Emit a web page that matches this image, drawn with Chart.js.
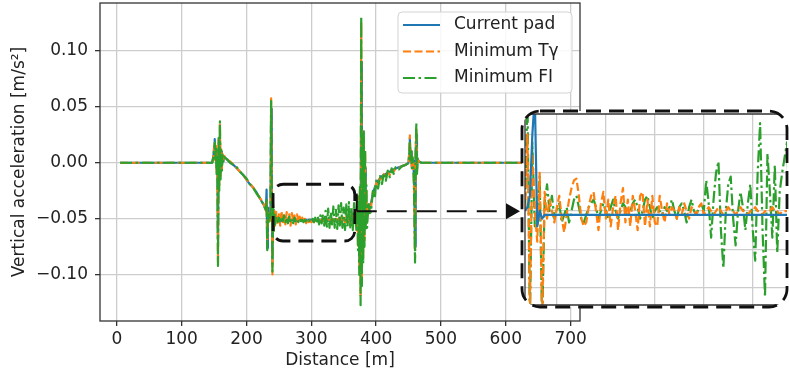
<!DOCTYPE html>
<html>
<head>
<meta charset="utf-8">
<script src="https://cdn.jsdelivr.net/npm/chart.js@4.4.1/dist/chart.umd.min.js"></script>
<style>
  html, body { margin: 0; padding: 0; background: #fff; }
  #wrap { position: relative; width: 789px; height: 373px; overflow: hidden; }
  #main { position: absolute; left: 0; top: 0; width: 789px; height: 373px; }
  #zoom { position: absolute; left: 519px; top: 108px; width: 270px; height: 202px; }
</style>
</head>
<body>
<div id="wrap">
  <canvas id="main" width="789" height="373"></canvas>
  <canvas id="zoom" width="270" height="202"></canvas>
</div>
<script>
// ---- Vertical acceleration along the track ----
const distance = [
  5, 60, 120, 147, 149, 150, 151, 152, 153, 154, 155, 156, 157, 158, 159, 160, 161, 162, 163, 164, 166, 168, 170,
  175, 180, 185, 190, 195, 200, 205, 210, 215, 220, 225, 228, 230,
  231, 232, 233, 234, 235, 236, 237, 238, 239, 240, 241, 242, 243, 244,
  246, 248, 250, 252, 254, 256, 258, 260, 262, 264,
  266, 268, 270, 272, 274, 276, 278, 280, 282, 284,
  286, 288, 290, 292, 294, 296, 298, 300, 302, 304,
  306, 308, 310, 312, 314, 316, 318, 320, 322, 324,
  326, 328, 330, 332, 334, 336, 338, 340, 342, 344,
  346, 348, 350, 352, 354, 356, 358, 360, 362, 364, 366,
  368, 370, 371, 372, 373, 374, 375, 376, 377, 378, 379, 380, 381, 382, 383, 384, 385, 386, 388, 390,
  392, 395, 398, 400, 403, 406, 409, 412, 415, 418, 421, 424, 427, 430, 435, 440, 445, 448,
  450, 451, 452, 453, 454, 455, 456, 457, 458, 459, 460, 461, 462, 463, 464, 466, 470, 480, 550, 620, 700
];

const accCurrentPad = [
  0, 0, 0, 0, 0.006, 0.014, 0.021, 0.004, 0.012, -0.006, 0.008, -0.070, 0.012, -0.012, 0.022, -0.008, 0.010, -0.004, 0.006, 0.001, 0.005, 0.004, 0.003,
  0.000, -0.002, -0.005, -0.008, -0.011, -0.015, -0.019, -0.022, -0.026, -0.031, -0.036, -0.039, -0.042,
  -0.024, -0.076, -0.040, -0.052, -0.046, -0.050, -0.048, 0.048, -0.020, -0.090, -0.042, -0.056, -0.047, -0.053,
  -0.048, -0.052, -0.050, -0.051, -0.052, -0.051, -0.051, -0.052, -0.051, -0.051,
  -0.052, -0.051, -0.051, -0.051, -0.052, -0.051, -0.051, -0.052, -0.051, -0.051,
  -0.052, -0.051, -0.051, -0.051, -0.052, -0.051, -0.051, -0.051, -0.052, -0.051,
  -0.051, -0.051, -0.052, -0.051, -0.051, -0.051, -0.052, -0.051, -0.051, -0.051,
  -0.051, -0.052, -0.051, -0.051, -0.051, -0.052, -0.051, -0.051, -0.051, -0.052,
  -0.051, -0.051, -0.051, -0.052, -0.051, -0.051, -0.051, -0.052, -0.050, -0.053, -0.050,
  -0.051, -0.052, -0.045, -0.060, -0.040, -0.080, -0.030, -0.100, 0.090, -0.080, 0.028, -0.070, 0.015, -0.060, -0.005, -0.050, -0.045, -0.048, -0.044, -0.040,
  -0.036, -0.028, -0.022, -0.019, -0.016, -0.014, -0.012, -0.011, -0.010, -0.009, -0.008, -0.007, -0.006, -0.005, -0.004, -0.003, -0.002, -0.001,
  0, 0.008, 0.022, 0.004, 0.010, -0.003, 0.004, 0.002, -0.008, -0.030, -0.075, 0.006, 0.025, -0.006, 0.003, 0.001, 0, 0, 0, 0, 0
];

const accMinTgamma = [
  0, 0, 0, 0, 0.004, 0.012, 0.017, 0.002, 0.015, -0.010, 0.006, -0.090, 0.020, -0.020, 0.034, -0.012, 0.012, -0.006, 0.008, 0.002, 0.006, 0.004, 0.003,
  0.001, -0.002, -0.005, -0.008, -0.011, -0.015, -0.018, -0.022, -0.026, -0.031, -0.035, -0.039, -0.043,
  -0.035, -0.070, -0.045, -0.050, -0.048, -0.052, -0.046, 0.0575, -0.025, -0.0996, -0.038, -0.060, -0.043, -0.056,
  -0.044, -0.055, -0.046, -0.056, -0.043, -0.054, -0.047, -0.055, -0.044, -0.053,
  -0.046, -0.056, -0.045, -0.052, -0.047, -0.055, -0.046, -0.053, -0.048, -0.054,
  -0.049, -0.053, -0.050, -0.054, -0.050, -0.053, -0.051, -0.053, -0.051, -0.053,
  -0.051, -0.052, -0.051, -0.053, -0.051, -0.052, -0.050, -0.053, -0.050, -0.052,
  -0.050, -0.053, -0.051, -0.052, -0.050, -0.053, -0.050, -0.052, -0.050, -0.053,
  -0.049, -0.054, -0.049, -0.053, -0.048, -0.055, -0.048, -0.056, -0.046, -0.057, -0.047,
  -0.050, -0.060, -0.035, -0.075, -0.030, -0.095, -0.025, -0.120, 0.125, -0.105, 0.020, -0.085, 0.022, -0.070, 0.010, -0.055, -0.025, -0.052, -0.038, -0.043,
  -0.040, -0.026, -0.028, -0.018, -0.020, -0.013, -0.016, -0.010, -0.013, -0.008, -0.011, -0.006, -0.008, -0.005, -0.005, -0.003, -0.002, -0.001,
  0, 0.009, 0.0245, 0.003, 0.011, -0.004, 0.005, 0.001, -0.010, -0.038, -0.085, 0.008, 0.030, -0.008, 0.003, 0.001, 0, 0, 0, 0, 0
];

const accMinFI = [
  0, 0, 0, 0, 0.005, 0.011, 0.018, 0.003, 0.014, -0.012, 0.007, -0.092, 0.022, -0.025, 0.037, -0.015, 0.011, -0.007, 0.007, 0.001, 0.005, 0.004, 0.003,
  0.000, -0.002, -0.004, -0.008, -0.011, -0.014, -0.019, -0.022, -0.027, -0.031, -0.036, -0.040, -0.042,
  -0.032, -0.078, -0.043, -0.053, -0.047, -0.051, -0.045, 0.055, -0.022, -0.097, -0.036, -0.062, -0.044, -0.055,
  -0.048, -0.053, -0.049, -0.054, -0.048, -0.052, -0.047, -0.053, -0.049, -0.054,
  -0.048, -0.052, -0.050, -0.054, -0.049, -0.052, -0.050, -0.053, -0.050, -0.052,
  -0.051, -0.053, -0.051, -0.052, -0.051, -0.053, -0.051, -0.052, -0.050, -0.053,
  -0.049, -0.054, -0.048, -0.055, -0.047, -0.054, -0.046, -0.056, -0.043, -0.057,
  -0.041, -0.058, -0.044, -0.055, -0.039, -0.058, -0.042, -0.059, -0.038, -0.056,
  -0.036, -0.058, -0.040, -0.060, -0.037, -0.057, -0.035, -0.059, -0.040, -0.060, -0.036,
  -0.048, -0.062, -0.030, -0.078, -0.035, -0.100, -0.020, -0.127, 0.130, -0.110, 0.022, -0.090, 0.028, -0.075, 0.012, -0.060, -0.020, -0.058, -0.035, -0.045,
  -0.044, -0.025, -0.032, -0.016, -0.023, -0.012, -0.019, -0.009, -0.016, -0.007, -0.013, -0.005, -0.010, -0.004, -0.006, -0.003, -0.002, -0.001,
  0, 0.007, 0.018, 0.002, 0.012, -0.005, 0.005, 0.001, -0.012, -0.040, -0.089, 0.010, 0.0355, -0.010, 0.004, 0.001, 0, 0, 0, 0, 0
];

const distanceTicks = [0, 100, 200, 300, 400, 500, 600, 700];
const accelTicks = [-0.10, -0.05, 0.00, 0.05, 0.10];

// ---- Close-up of the section between the two spikes ----
const zoomDistance = [
  237, 238, 239, 240, 241, 242, 243, 244, 245, 246,
  247, 248, 249, 250, 251, 252, 253, 254, 255, 256,
  257, 258, 259, 260, 261, 262, 263, 264, 265, 266,
  267, 268, 269, 270, 271, 272, 273, 274, 275, 276,
  277, 278, 279, 280, 281, 282, 283, 284, 285, 286,
  287, 288, 289, 290, 291, 292, 293, 294, 295, 296,
  297, 298, 299, 300, 301, 302, 303, 304, 305, 306,
  307, 308, 309, 310, 311, 312, 313, 314, 315, 316,
  317, 318, 319, 320, 321, 322, 323, 324, 325, 326,
  327, 328, 329, 330, 331, 332, 333, 334, 335, 336,
  337, 338, 339, 340, 341, 342, 343, 344, 345
];

const zoomMinTgamma = [
  -0.050, -0.030, -0.075, -0.035, -0.050, -0.058, -0.040, -0.078, -0.045, -0.052,
  -0.047, -0.050, -0.053, -0.049, -0.046, -0.052, -0.0556, -0.051, -0.047, -0.044,
  -0.042, -0.0415, -0.046, -0.052, -0.054, -0.053, -0.049, -0.046, -0.045, -0.050,
  -0.055, -0.048, -0.045, -0.052, -0.047, -0.054, -0.049, -0.046, -0.055, -0.048,
  -0.044, -0.053, -0.047, -0.054, -0.046, -0.050, -0.055, -0.046, -0.045, -0.054,
  -0.047, -0.054, -0.046, -0.053, -0.054, -0.046, -0.050, -0.053, -0.048, -0.051,
  -0.049, -0.050, -0.052, -0.049, -0.051, -0.048, -0.050, -0.052, -0.049, -0.050,
  -0.051, -0.049, -0.048, -0.051, -0.050, -0.049, -0.050, -0.051, -0.050, -0.049,
  -0.050, -0.051, -0.050, -0.049, -0.050, -0.050, -0.051, -0.050, -0.049, -0.050,
  -0.050, -0.051, -0.050, -0.050, -0.049, -0.050, -0.050, -0.051, -0.050, -0.050,
  -0.050, -0.049, -0.050, -0.050, -0.051, -0.050, -0.050, -0.050, -0.050
];

const zoomMinFI = [
  -0.050, -0.020, -0.080, -0.032, -0.054, -0.050, -0.041, -0.080, -0.048, -0.043,
  -0.050, -0.046, -0.052, -0.050, -0.048, -0.053, -0.051, -0.049, -0.053, -0.050,
  -0.047, -0.046, -0.049, -0.052, -0.053, -0.051, -0.049, -0.048, -0.047, -0.049,
  -0.052, -0.050, -0.048, -0.050, -0.052, -0.049, -0.047, -0.050, -0.052, -0.050,
  -0.048, -0.049, -0.051, -0.050, -0.048, -0.047, -0.049, -0.052, -0.050, -0.047,
  -0.046, -0.049, -0.052, -0.050, -0.049, -0.050, -0.051, -0.049, -0.050, -0.049,
  -0.047, -0.050, -0.052, -0.049, -0.048, -0.050, -0.053, -0.049, -0.047, -0.050,
  -0.051, -0.049, -0.048, -0.050, -0.042, -0.048, -0.057, -0.047, -0.040, -0.037,
  -0.055, -0.065, -0.050, -0.043, -0.041, -0.052, -0.059, -0.050, -0.045, -0.049,
  -0.055, -0.048, -0.043, -0.055, -0.063, -0.040, -0.027, -0.055, -0.0725, -0.035,
  -0.045, -0.057, -0.038, -0.061, -0.045, -0.040, -0.036, -0.032, -0.050
];

const zoomPadDistance = [237, 238, 239, 240, 241, 242, 243, 244, 245, 345];
const zoomCurrentPad = [-0.050, -0.049, -0.046, -0.030, -0.020, -0.054, -0.050, -0.052, -0.051, -0.051];

const zoomDistanceTicks = [250, 270, 290, 310, 330];
const zoomAccelTicks = [-0.07, -0.06, -0.05, -0.04, -0.03];

const seriesNames = ['Current pad', 'Minimum T\u03b3', 'Minimum FI'];

// ---- styling ----
const FONT = "'DejaVu Sans', 'Liberation Sans', sans-serif";
const TEXT = '#222';
const GRID = '#cdcdcd';
const SPINE = '#333';
const LINE_W = 2.2;
const lineStyles = [
  { color: '#1f77b4', dash: [] },
  { color: '#ff7f0e', dash: [8, 3.5] },
  { color: '#2ca02c', dash: [12, 3.5, 2.5, 3.5] }
];

Chart.defaults.font.family = FONT;
Chart.defaults.font.size = 17;
Chart.defaults.color = TEXT;

function pairs(xs, ys) {
  return xs.map((x, i) => ({ x: x, y: ys[i] }));
}

function makeDataset(label, xs, ys, style, order) {
  return {
    label: label,
    data: pairs(xs, ys),
    borderColor: style.color,
    backgroundColor: style.color,
    borderWidth: LINE_W,
    borderDash: style.dash,
    borderJoinStyle: 'round',
    borderCapStyle: 'butt',
    pointRadius: 0,
    tension: 0,
    fill: false,
    order: order
  };
}

function roundRectPath(ctx, x, y, w, h, r) {
  ctx.beginPath();
  ctx.moveTo(x + r, y);
  ctx.lineTo(x + w - r, y);
  ctx.arcTo(x + w, y, x + w, y + r, r);
  ctx.lineTo(x + w, y + h - r);
  ctx.arcTo(x + w, y + h, x + w - r, y + h, r);
  ctx.lineTo(x + r, y + h);
  ctx.arcTo(x, y + h, x, y + h - r, r);
  ctx.lineTo(x, y + r);
  ctx.arcTo(x, y, x + r, y, r);
  ctx.closePath();
}

function fixedTicks(values) {
  return function (scale) { scale.ticks = values.map(v => ({ value: v })); };
}

// fixed axis box sizes, without the extra room Chart.js keeps for edge labels
function fixWidth(w) {
  return function (scale) { scale.width = w; scale.paddingTop = 0; scale.paddingBottom = 0; };
}
function fixHeight(h) {
  return function (scale) { scale.height = h; scale.paddingLeft = 0; scale.paddingRight = 0; };
}

function fmtAccel(v) {
  const s = Math.abs(v).toFixed(2);
  return v < -1e-9 ? '\u2212' + s : s;
}

// window that is enlarged in the close-up, and the connector to it
const zoomWindow = { from: 241, to: 367, top: -0.0192, bottom: -0.0698 };
const connector = { from: -0.0275, level: -0.0433 };

const mainDecor = {
  id: 'mainDecor',
  afterDraw(chart) {
    const { ctx, chartArea: a, scales: { x, y } } = chart;
    ctx.save();

    // axes frame
    ctx.setLineDash([]);
    ctx.strokeStyle = SPINE;
    ctx.lineWidth = 1.3;
    ctx.strokeRect(a.left, a.top, a.right - a.left, a.bottom - a.top);

    // dashed window around the enlarged section
    const bx0 = x.getPixelForValue(zoomWindow.from);
    const bx1 = x.getPixelForValue(zoomWindow.to);
    const by0 = y.getPixelForValue(zoomWindow.top);
    const by1 = y.getPixelForValue(zoomWindow.bottom);
    ctx.strokeStyle = '#111';
    ctx.lineWidth = 2.8;
    ctx.setLineDash([15, 8]);
    roundRectPath(ctx, bx0, by0, bx1 - bx0, by1 - by0, 10);
    ctx.stroke();

    // connector arrow towards the close-up
    const cx = bx1 + 2;
    const cy0 = y.getPixelForValue(connector.from);
    const cy = y.getPixelForValue(connector.level);
    const zoomCanvas = document.getElementById('zoom');
    const tipX = zoomCanvas.offsetLeft + 1;
    ctx.setLineDash([]);
    ctx.lineWidth = 2;
    ctx.beginPath();
    ctx.moveTo(cx, cy0);
    ctx.lineTo(cx, cy);
    ctx.stroke();
    ctx.setLineDash([20, 10]);
    ctx.beginPath();
    ctx.moveTo(cx, cy);
    ctx.lineTo(tipX - 13, cy);
    ctx.stroke();
    ctx.setLineDash([]);
    ctx.fillStyle = '#111';
    ctx.beginPath();
    ctx.moveTo(tipX, cy);
    ctx.lineTo(tipX - 14, cy - 8);
    ctx.lineTo(tipX - 14, cy + 8);
    ctx.closePath();
    ctx.fill();

    // legend
    const lx = 398, ly = 12, lw = 174, lh = 81;
    ctx.fillStyle = 'rgba(255,255,255,0.85)';
    ctx.strokeStyle = '#d3d3d3';
    ctx.lineWidth = 1;
    roundRectPath(ctx, lx, ly, lw, lh, 4);
    ctx.fill();
    ctx.stroke();
    ctx.font = '17px ' + FONT;
    ctx.textBaseline = 'middle';
    ctx.textAlign = 'left';
    seriesNames.forEach((name, i) => {
      const yy = 25 + i * 26.5;
      const st = lineStyles[i];
      ctx.strokeStyle = st.color;
      ctx.lineWidth = LINE_W;
      ctx.setLineDash(st.dash);
      ctx.beginPath();
      ctx.moveTo(403, yy);
      ctx.lineTo(440, yy);
      ctx.stroke();
      ctx.setLineDash([]);
      ctx.fillStyle = TEXT;
      ctx.fillText(name, 454, yy);
    });

    ctx.restore();
  }
};

new Chart(document.getElementById('main'), {
  type: 'line',
  data: {
    datasets: [
      makeDataset(seriesNames[0], distance, accCurrentPad, lineStyles[0], 3),
      makeDataset(seriesNames[1], distance, accMinTgamma, lineStyles[1], 2),
      makeDataset(seriesNames[2], distance, accMinFI, lineStyles[2], 1)
    ]
  },
  options: {
    responsive: false,
    animation: false,
    devicePixelRatio: 1,
    layout: { padding: { left: 0, right: 209, top: 3, bottom: 0 } },
    plugins: { legend: { display: false }, tooltip: { enabled: false } },
    scales: {
      x: {
        type: 'linear',
        min: -26,
        max: 714.5,
        afterBuildTicks: fixedTicks(distanceTicks),
        afterFit: fixHeight(52),
        border: { display: false },
        grid: { color: GRID, lineWidth: 1.3, tickLength: 5, tickColor: SPINE, tickWidth: 1.3 },
        ticks: { padding: 3, maxRotation: 0, autoSkip: false, color: TEXT, callback: v => String(v) },
        title: { display: true, text: 'Distance [m]', color: TEXT, padding: { top: 0, bottom: 2 } }
      },
      y: {
        type: 'linear',
        min: -0.1411,
        max: 0.1424,
        afterBuildTicks: fixedTicks(accelTicks),
        afterFit: fixWidth(100),
        border: { display: false },
        grid: { color: GRID, lineWidth: 1.3, tickLength: 5, tickColor: SPINE, tickWidth: 1.3 },
        ticks: { padding: 7, autoSkip: false, color: TEXT, callback: v => fmtAccel(v) },
        title: { display: true, text: 'Vertical acceleration [m/s\u00b2]', color: TEXT, padding: { top: 9, bottom: 0 } }
      }
    }
  },
  plugins: [mainDecor]
});

// ---- close-up panel ----
const panel = { x: 3, y: 3, w: 265, h: 196, r: 18 };

const zoomDecor = {
  id: 'zoomDecor',
  beforeDraw(chart) {
    const ctx = chart.ctx;
    ctx.save();
    roundRectPath(ctx, panel.x, panel.y, panel.w, panel.h, panel.r);
    ctx.fillStyle = '#fff';
    ctx.fill();
    ctx.clip();
  },
  afterDraw(chart) {
    const { ctx, chartArea: a } = chart;
    ctx.setLineDash([]);
    ctx.strokeStyle = SPINE;
    ctx.lineWidth = 1.3;
    ctx.beginPath();
    ctx.moveTo(a.left, a.top); ctx.lineTo(a.right, a.top);
    ctx.moveTo(a.left, a.bottom); ctx.lineTo(a.right, a.bottom);
    ctx.moveTo(a.left, a.top); ctx.lineTo(a.left, a.bottom);
    ctx.stroke();
    ctx.restore();

    ctx.save();
    ctx.strokeStyle = '#111';
    ctx.lineWidth = 2.8;
    ctx.setLineDash([15, 8]);
    roundRectPath(ctx, panel.x, panel.y, panel.w, panel.h, panel.r);
    ctx.stroke();
    ctx.restore();
  }
};

new Chart(document.getElementById('zoom'), {
  type: 'line',
  data: {
    datasets: [
      makeDataset(seriesNames[0], zoomPadDistance, zoomCurrentPad, lineStyles[0], 1),
      makeDataset(seriesNames[1], zoomDistance, zoomMinTgamma, lineStyles[1], 2),
      makeDataset(seriesNames[2], zoomDistance, zoomMinFI, lineStyles[2], 3)
    ]
  },
  options: {
    responsive: false,
    animation: false,
    devicePixelRatio: 1,
    layout: { padding: { left: 6, right: 0, top: 6, bottom: 5 } },
    plugins: { legend: { display: false }, tooltip: { enabled: false } },
    scales: {
      x: {
        type: 'linear',
        min: 237,
        max: 344.8,
        afterBuildTicks: fixedTicks(zoomDistanceTicks),
        afterFit: fixHeight(0),
        border: { display: false },
        grid: { color: GRID, lineWidth: 1.3, drawTicks: false },
        ticks: { display: false }
      },
      y: {
        type: 'linear',
        min: -0.0746,
        max: -0.0246,
        afterBuildTicks: fixedTicks(zoomAccelTicks),
        afterFit: fixWidth(0),
        border: { display: false },
        grid: { color: GRID, lineWidth: 1.3, drawTicks: false },
        ticks: { display: false }
      }
    }
  },
  plugins: [zoomDecor]
});
</script>
</body>
</html>
